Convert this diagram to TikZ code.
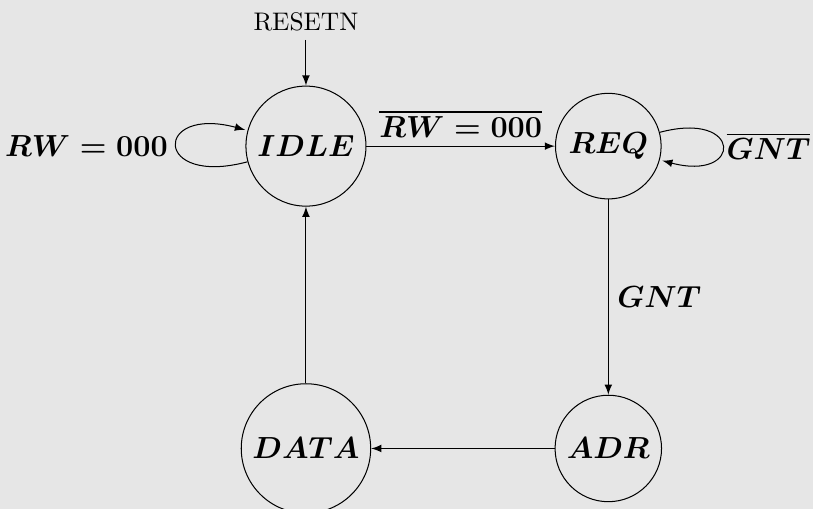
\documentclass[tikz,border=0pt]{standalone}
\usepackage{amsmath}
\usepackage{amssymb}
\usepackage{tikz}
\definecolor{bgGray}{HTML}{E6E6E6}

\begin{document}
\begin{tikzpicture}[node distance=4.18cm, >=latex, fsm/.style={circle,draw,font=\large}, cond/.style={font=\fontsize{11.6}{14}\selectfont}]
        \useasboundingbox[fill=bgGray] (-4.23,-5.01) rectangle (7.01,2.02);

        \node[fsm] (idle) {$\boldsymbol{IDLE}$};
        \node[fsm] (req) [right of=idle] {$\boldsymbol{REQ}$};
        \node[fsm] (adr) [below of=req] {$\boldsymbol{ADR}$};
        \node[fsm] (data) [below of=idle] {$\boldsymbol{DATA}$};
        \node (reset) [above of=idle, node distance=1.72cm] {RESETN};

        \draw[->] (reset) -- (idle);
        \draw[->] (idle) edge[loop left] node[left,cond]{$\boldsymbol{RW=000}$} ();
        \draw[->] (idle) -- (req) node[midway,above,cond]{$\overline{\boldsymbol{RW=000}}$};
        \draw[->] (req) edge[loop right] node[right,cond,inner sep=1.5pt]{$\overline{\boldsymbol{GNT}}$} ();
        \draw[->] (req) -- (adr) node[midway,right,cond]{$\boldsymbol{GNT}$};
        \draw[->] (adr) -- (data);
        \draw[->] (data) -- (idle);
    \end{tikzpicture}
\end{document}
